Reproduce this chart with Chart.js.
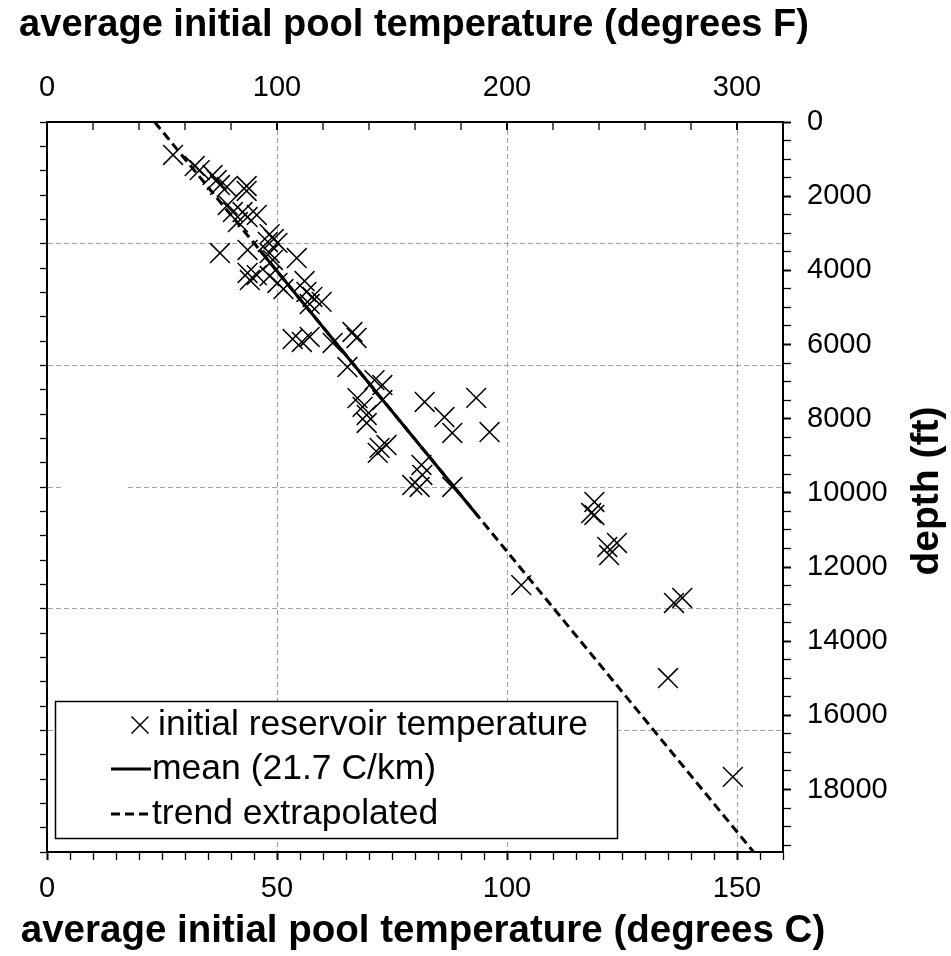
<!DOCTYPE html>
<html>
<head>
<meta charset="utf-8">
<script src="https://cdn.jsdelivr.net/npm/chart.js@4.4.1/dist/chart.umd.min.js"></script>
<style>
  html, body { margin: 0; padding: 0; background: #fff; }
  #wrap { width: 951px; height: 956px; position: relative; }
</style>
</head>
<body>
<div id="wrap"><canvas id="chart-canvas"></canvas></div>
<script>
//------------------------ DATA --------------------------------------------------

// reservoir temperatures (C) and depths (m)
const tempC = [
  27.4, 32.1, 33.2, 36.0, 36.9, 37.6, 39.1, 43.4, 43.4, 39.3,
  40.4, 42.5, 43.6, 45.6, 41.5, 48.4, 49.3, 48.0, 50.1, 37.6,
  43.6, 48.4, 49.1, 54.3, 43.6, 44.1, 45.6, 48.4, 50.1, 51.4,
  56.0, 56.4, 57.7, 59.7, 57.1, 53.4, 55.4, 57.1, 62.1, 66.4,
  67.3, 65.3, 71.2, 72.9, 72.9, 67.5, 68.6, 69.5, 69.5, 82.1,
  86.4, 88.1, 93.3, 96.2, 72.3, 73.8, 71.9, 81.4, 81.6, 79.4,
  81.0, 88.1, 119.0, 118.3, 119.0, 121.8, 123.9, 122.2, 103.1, 136.3,
  138.1, 135.0, 149.1
];
const depthM = [
  271, 362, 395, 436, 477, 518, 534, 526, 567, 682,
  740, 740, 781, 764, 822, 921, 962, 986, 994, 1077,
  1052, 1077, 1134, 1118, 1241, 1299, 1258, 1266, 1323, 1373,
  1307, 1397, 1438, 1479, 1496, 1784, 1808, 1767, 1816, 1726,
  1775, 2014, 2121, 2162, 2285, 2269, 2342, 2408, 2474, 2301,
  2425, 2556, 2268, 2548, 2679, 2655, 2720, 2819, 2901, 2984,
  3000, 3000, 3123, 3214, 3230, 3493, 3460, 3559, 3806, 3953,
  3912, 4570, 5383
];

// mean gradient line (over the data depth range) and its extrapolation
const meanTempC = [46.2, 93.8];
const meanDepthM = [1050, 3245];
const trendTempC = [23.4, 153.6];
const trendDepthM = [0, 6000];

const seriesLabels = ["initial reservoir temperature", "mean (21.7 C/km)", "trend extrapolated"];
const bottomTitle = "average initial pool temperature (degrees C)";
const topTitle = "average initial pool temperature (degrees F)";
const rightTitle = "depth (ft)";

// axis ranges / tick steps
const cMax = 160, cStep = 5, cLabelStep = 50;
const fMax = 320, fStep = 20, fLabelStep = 100;
const mMax = 6000, mStep = 200, mGridStep = 1000;
const ftMax = 19685, ftStep = 500, ftLabelStep = 2000;

//------------------------ CHART ----------------------------

const FONT = '"Liberation Sans", Arial, Helvetica, sans-serif';
const GRID_GRAY = "#a0a0a0";
Chart.defaults.font.family = FONT;
Chart.defaults.color = "#000";

function toPoints(xs, ys) {
  return xs.map((x, i) => ({ x: x, y: ys[i] }));
}

// fixed tick positions 0, step, 2*step ... up to max
function stepTicks(step, max) {
  return (scale) => {
    const ticks = [];
    for (let v = 0; v <= max + 1e-9; v += step) ticks.push({ value: v });
    scale.ticks = ticks;
  };
}

function isMultiple(c, step, max) {
  if (!c.tick) return false;
  const v = c.tick.value;
  return v % step === 0 && v > 0 && v < max;
}

// ticks on the top axis point inward
const topTicks = {
  id: "topTicks",
  afterDraw(chart) {
    const s = chart.scales.xF;
    const ctx = chart.ctx;
    const top = chart.chartArea.top;
    ctx.save();
    ctx.strokeStyle = "#000";
    s.ticks.forEach((t) => {
      const px = s.getPixelForValue(t.value);
      ctx.lineWidth = t.value % fLabelStep === 0 ? 2 : 1.3;
      ctx.beginPath();
      ctx.moveTo(px, top);
      ctx.lineTo(px, top + 8);
      ctx.stroke();
    });
    ctx.restore();
  },
};

// a blank patch in the 3000 m grid line, as in the original
const gridGap = {
  id: "gridGap",
  beforeDatasetsDraw(chart) {
    const x = chart.scales.x, y = chart.scales.y;
    const ctx = chart.ctx;
    const x1 = x.getPixelForValue(3.5), x2 = x.getPixelForValue(17.6);
    const py = y.getPixelForValue(3000);
    ctx.save();
    ctx.fillStyle = "#fff";
    ctx.fillRect(x1, py - 3, x2 - x1, 6);
    ctx.restore();
  },
};

// axis titles (drawn here so they are not squeezed to the axis width)
const axisTitles = {
  id: "axisTitles",
  afterDraw(chart) {
    const ctx = chart.ctx;
    const area = chart.chartArea;
    ctx.save();
    ctx.fillStyle = "#000";
    ctx.font = "bold 38px " + FONT;
    ctx.textAlign = "center";
    ctx.textBaseline = "alphabetic";
    ctx.fillText(topTitle, 414, 36);
    ctx.font = "bold 38.5px " + FONT;
    ctx.fillText(bottomTitle, 423, 942);

    ctx.translate(927, (area.top + area.bottom) / 2 + 4);
    ctx.rotate(-Math.PI / 2);
    ctx.font = "bold 39px " + FONT;
    ctx.textBaseline = "middle";
    ctx.fillText(rightTitle, 0, 0);
    ctx.restore();
  },
};

// boxed legend inside the plot
const legendBox = {
  id: "legendBox",
  afterDraw(chart) {
    const ctx = chart.ctx;
    const sets = chart.data.datasets;
    const left = 55, top = 701, w = 562, h = 137;
    const rows = [725, 769, 814];
    ctx.save();
    ctx.fillStyle = "#fff";
    ctx.fillRect(left, top, w, h);
    ctx.strokeStyle = "#000";
    ctx.lineWidth = 1.5;
    ctx.strokeRect(left + 0.5, top + 0.5, w, h);

    // marker
    const r = 8.5;
    ctx.lineWidth = 1.5;
    ctx.beginPath();
    ctx.moveTo(140 - r, rows[0] - r);
    ctx.lineTo(140 + r, rows[0] + r);
    ctx.moveTo(140 - r, rows[0] + r);
    ctx.lineTo(140 + r, rows[0] - r);
    ctx.stroke();

    // line samples
    [1, 2].forEach((i) => {
      ctx.lineWidth = sets[i].borderWidth;
      ctx.setLineDash(sets[i].borderDash || []);
      ctx.beginPath();
      ctx.moveTo(111, rows[i]);
      ctx.lineTo(151, rows[i]);
      ctx.stroke();
    });
    ctx.setLineDash([]);

    ctx.font = "35.5px " + FONT;
    ctx.fillStyle = "#000";
    ctx.textBaseline = "middle";
    ctx.fillText(sets[0].label, 158, rows[0]);
    ctx.fillText(sets[1].label, 152, rows[1]);
    ctx.fillText(sets[2].label, 152, rows[2]);
    ctx.restore();
  },
};

const ctx = document.getElementById("chart-canvas").getContext("2d");
const myChart = new Chart(ctx, {
  type: "scatter",
  data: {
    datasets: [
      {
        label: seriesLabels[0],
        data: toPoints(tempC, depthM),
        pointStyle: "crossRot",
        pointRadius: 14,
        pointBorderWidth: 1.5,
        borderColor: "#000",
        backgroundColor: "#000",
        showLine: false,
      },
      {
        label: seriesLabels[1],
        data: toPoints(meanTempC, meanDepthM),
        showLine: true,
        pointRadius: 0,
        borderColor: "#000",
        borderWidth: 3,
        fill: false,
      },
      {
        label: seriesLabels[2],
        data: toPoints(trendTempC, trendDepthM),
        showLine: true,
        pointRadius: 0,
        borderColor: "#000",
        borderWidth: 3,
        borderDash: [9, 5],
        fill: false,
      },
    ],
  },
  options: {
    responsive: true,
    maintainAspectRatio: false,
    animation: false,
    layout: { padding: 0 },
    plugins: {
      legend: { display: false },
      tooltip: { enabled: false },
    },
    scales: {
      x: {
        type: "linear",
        position: "bottom",
        min: 0,
        max: cMax,
        afterBuildTicks: stepTicks(cStep, cMax),
        ticks: {
          autoSkip: false,
          maxRotation: 0,
          minRotation: 0,
          padding: 12,
          font: { size: 29 },
          callback: (v) => (v % cLabelStep === 0 ? v : ""),
        },
        grid: {
          color: (c) => (isMultiple(c, cLabelStep, cMax) ? GRID_GRAY : "rgba(0,0,0,0)"),
          lineWidth: 1,
          tickColor: "#000",
          tickLength: 8,
          tickWidth: (c) => (c.tick && c.tick.value % cLabelStep === 0 ? 2 : 1.3),
        },
        border: { display: true, color: "#000", width: 2, dash: [5, 3] },
        afterFit: (s) => { s.height = 104; },
      },
      xF: {
        type: "linear",
        position: "top",
        min: 0,
        max: fMax,
        afterBuildTicks: stepTicks(fStep, fMax),
        ticks: {
          autoSkip: false,
          maxRotation: 0,
          minRotation: 0,
          padding: 17,
          font: { size: 29 },
          callback: (v) => (v % fLabelStep === 0 ? v : ""),
        },
        grid: { drawOnChartArea: false, drawTicks: false },
        border: { display: true, color: "#000", width: 2 },
        afterFit: (s) => { s.height = 122; },
      },
      y: {
        type: "linear",
        position: "left",
        reverse: true,
        min: 0,
        max: mMax,
        afterBuildTicks: stepTicks(mStep, mMax),
        ticks: { display: false, autoSkip: false },
        grid: {
          color: (c) => (isMultiple(c, mGridStep, mMax) ? GRID_GRAY : "rgba(0,0,0,0)"),
          lineWidth: 1,
          tickColor: "#000",
          tickLength: 7,
          tickWidth: 1.3,
        },
        border: { display: true, color: "#000", width: 2, dash: [5, 3] },
        afterFit: (s) => { s.width = 47; },
      },
      yFt: {
        type: "linear",
        position: "right",
        reverse: true,
        min: 0,
        max: ftMax,
        afterBuildTicks: stepTicks(ftStep, ftMax),
        ticks: {
          autoSkip: false,
          padding: 16,
          font: { size: 29 },
          callback: (v) => (v % ftLabelStep === 0 ? v : ""),
        },
        grid: {
          drawOnChartArea: false,
          tickColor: "#000",
          tickLength: 8,
          tickWidth: (c) => (c.tick && c.tick.value % ftLabelStep === 0 ? 2 : 1.3),
        },
        border: { display: true, color: "#000", width: 2 },
        afterFit: (s) => { s.width = 168; },
      },
    },
  },
  plugins: [gridGap, topTicks, axisTitles, legendBox],
});
</script>
</body>
</html>
